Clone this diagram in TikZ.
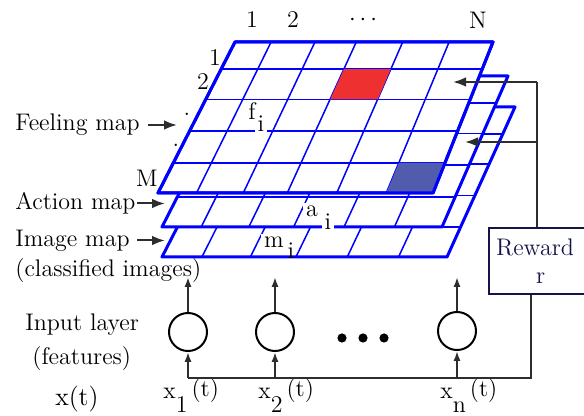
\documentclass[tikz,border=0pt]{standalone}
\usepackage{tikz}
\usetikzlibrary{arrows.meta, positioning, calc}
\definecolor{mapblue}{RGB}{0,0,255}
\definecolor{navy}{RGB}{20,20,75}
\definecolor{arrgray}{RGB}{45,45,45}
\definecolor{cellred}{RGB}{238,48,48}
\definecolor{cellblue}{RGB}{82,92,172}
\newcommand{\xin}[1]{x\raisebox{-1.3ex}{#1}\,\raisebox{0.2ex}{(t)}}
\tikzset{
  mapedge/.style={draw=mapblue, line width=1.5pt, line join=round},
  gridln/.style={draw=mapblue, line width=0.75pt},
  txt/.style={font=\fontsize{12}{14}\selectfont, inner sep=0pt},
  maplbl/.style={txt, fill=white, inner sep=1.5pt},
  arr/.style={-{Latex[length=6.5pt, width=4.8pt]}, line width=1pt, arrgray},
  arrs/.style={-{Latex[length=5pt, width=3.6pt]}, line width=1pt, arrgray},
  wire/.style={line width=1pt, arrgray},
}

\begin{document}
\begin{tikzpicture}[x=0.5pt, y=-0.5pt,
        unit/.style={circle, draw=black, line width=1pt, minimum size=19pt, inner sep=0pt},
        dot/.style={circle, fill=black, minimum size=4.6pt, inner sep=0pt},
        rewbox/.style={txt, draw=navy, line width=1pt, text=navy, text width=45pt,
                       inner xsep=3.5pt, align=left, minimum height=33pt}]
  \useasboundingbox (0,0) rectangle (584,416);
  \clip (0,0) rectangle (584,416);
  % corners of the three maps
  \coordinate (feTL) at (235,42);  \coordinate (feTR) at (493,42);
  \coordinate (feBR) at (433,193); \coordinate (feBL) at (158,193);
  \coordinate (acTL) at (239,76);  \coordinate (acTR) at (508,76);
  \coordinate (acBR) at (442,227); \coordinate (acBL) at (162,227);
  \coordinate (imTL) at (239,107); \coordinate (imTR) at (515,107);
  \coordinate (imBR) at (447,257); \coordinate (imBL) at (162,257);
  % maps, back to front
  \foreach \m in {im,ac,fe} {
    \fill[white] (\m TL) -- (\m TR) -- (\m BR) -- (\m BL) -- cycle;
    \foreach \c in {0.14,0.31,0.47,0.65,0.83}
      \draw[gridln] ($(\m TL)!\c!(\m TR)$) -- ($(\m BL)!\c!(\m BR)$);
    \foreach \r in {0.18,0.38,0.59,0.8}
      \draw[gridln] ($(\m TL)!\r!(\m BL)$) -- ($(\m TR)!\r!(\m BR)$);
    \draw[mapedge] (\m TL) -- (\m TR) -- (\m BR) -- (\m BL) -- cycle;
  }
  % marked cells of the feeling map
  \fill[cellred] (343.9,69.2) -- (390.8,69.2) -- (377.7,99.4) -- (330.1,99.4) -- cycle;
  \fill[cellblue] (398.9,162.8) -- (445,162.8) -- (433,193) -- (386.3,193) -- cycle;
  \draw[mapedge] (feTL) -- (feTR) -- (feBR) -- (feBL) -- cycle;

  \node[maplbl] (fsym) at (252,111) {f};
  \node[maplbl] (fidx) at (261,124) {i};
  \node[maplbl] (asym) at (312,211) {a};
  \node[maplbl] (aidx) at (328,222) {i};
  \node[maplbl] (msym) at (274,242) {m};
  \node[txt] (midx) at (291,251) {i};

  % row and column numbers
  \node[txt] (col1) at (252,20) {1};
  \node[txt] (col2) at (293,20) {2};
  \node[txt] (coldots) at (363,20) {$\cdots$};
  \node[txt] (colN) at (478,20) {N};
  \node[txt] (row1) at (215,58) {1};
  \node[txt] (row2) at (203,82) {2};
  \node[txt] (rowd1) at (187,114) {.};
  \node[txt] (rowd2) at (176,145) {.};
  \node[txt] (rowM) at (147,178) {M};

  % names of the maps
  \node[txt, anchor=west] (felbl) at (15,125) {Feeling map};
  \node[txt, anchor=west] (aclbl) at (15,203.5) {Action map};
  \node[txt, anchor=west] (imlbl) at (15,240.5) {Image map};
  \node[txt, anchor=west] (cllbl) at (15,271) {(classified images)};
  \coordinate (fetail) at (148,0); \coordinate (fetip) at (177,0);
  \coordinate (mptail) at (137,0); \coordinate (mptip) at (165,0);
  \draw[arr] (felbl.east -| fetail) -- (felbl.east -| fetip);
  \draw[arr] (aclbl.east -| mptail) -- (aclbl.east -| mptip);
  \draw[arr] (imlbl.east -| mptail) -- (imlbl.east -| mptip);

  % input layer
  \node[txt, anchor=west] (inlbl) at (25,325) {Input layer};
  \node[txt, anchor=west] (ftlbl) at (32,359) {(features)};
  \node[txt, anchor=west, font=\fontsize{13}{15}\selectfont] (xlbl) at (55,399) {x(t)};
  \node[unit] (u1) at (188,332) {};
  \node[unit] (u2) at (275,332) {};
  \node[unit] (un) at (457,331) {};
  \node[dot] (d1) at (342,338) {};
  \node[dot] (d2) at (363,338) {};
  \node[dot] (d3) at (384,338) {};
  \node[txt, anchor=base west] (x1) at (163,399) {\xin{1}};
  \node[txt, anchor=base west] (x2) at (258,399) {\xin{2}};
  \node[txt, anchor=base west] (xn) at (440,399) {\xin{n}};

  \node[rewbox, anchor=north west] (rew) at (488,227) {Reward\\\hspace*{20pt}r};

  % wiring
  \coordinate (busL) at (188,378);
  \coordinate (busR) at (531,378);
  \coordinate (uptop) at (0,277);
  \draw[wire] (busL) -- (busR) -- (busR |- rew.south);
  \draw[arrs] (busL) -- (u1);
  \draw[arrs] (u2 |- busL) -- (u2);
  \draw[arrs] (un |- busL) -- (un);
  \draw[arrs] (u1) -- (u1 |- uptop);
  \draw[arrs] (u2) -- (u2 |- uptop);
  \draw[arrs] (un) -- (un |- uptop);
  % reward fed back to the maps
  \coordinate (fb1) at (537,82);
  \coordinate (fb2) at (537,142);
  \coordinate (tip1) at (453,82);
  \coordinate (tip2) at (465,142);
  \draw[wire] (rew.north -| fb1) -- (fb1);
  \draw[arr] (fb1) -- (tip1);
  \draw[arr] (fb2) -- (tip2);
\end{tikzpicture}
\end{document}
